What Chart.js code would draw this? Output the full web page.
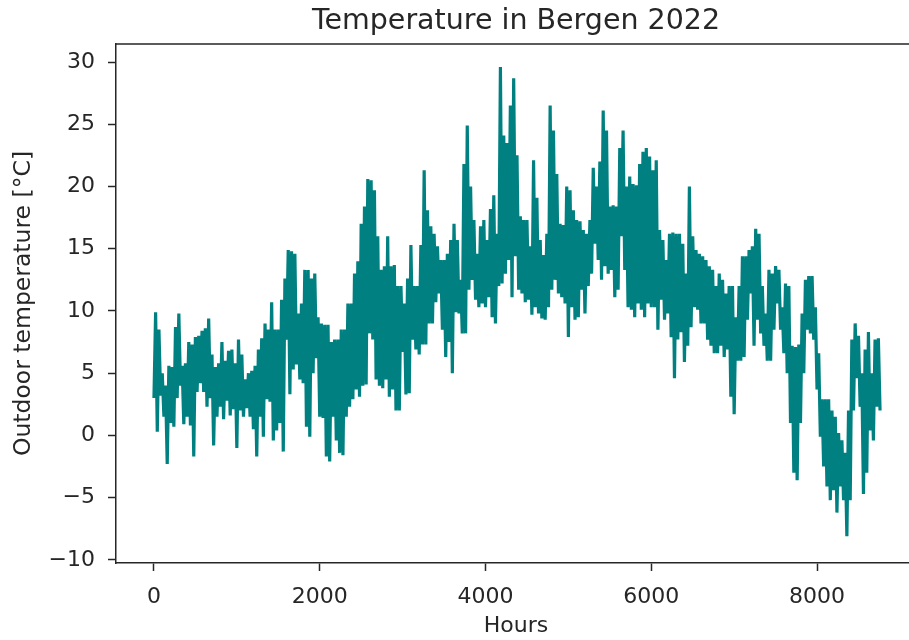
<!DOCTYPE html>
<html>
<head>
<meta charset="utf-8">
<title>Temperature in Bergen 2022</title>
<script src="https://cdn.jsdelivr.net/npm/chart.js@4.4.0/dist/chart.umd.min.js"></script>
<style>
	html, body { margin: 0; padding: 0; background: #fff; overflow: hidden; }
	canvas { display: block; }
</style>
</head>
<body>
<canvas id="grafico" width="925" height="640"></canvas>
<script>
// Hourly outdoor temperature, thinned to one reading every 20 h
const STEP_H = 20;

const temps = [
	// 0 - 1200 h
	3, 9.9, 0.3, 8.5, 3.2, 5, 1.5, 4, -2.3, 5.6, 1, 5.5, 0.7, 8.7, 3, 9.8, 4, 5.6, 0.9, 5.8, 1.5,
	7.5, 0.8, 7.3, -1.7, 7.9, 3.5, 8, 4.2, 8.4, 3.5, 8.6, 2.3, 9.4, 3, 6.5, -0.8, 5.5, 1.5, 5.8, 2.3,
	7.5, 1.3, 6, 2.8, 6.8, 1.6, 6.9, 2.1, 5.8, -1, 7.7, 2, 6.5, 1.5, 4.5, 2.2, 5, 1.5, 5.2, 0.5, 5.6, -1.7,
	// 1240 - 2000 h
	6.9, 1.5, 7.8, -0.1, 9, 2.9, 8.5, 2.7, 10.7, -0.4, 8.5, 0.4, 8.5, 1, 10.9, -1.3, 12.6, 7.7, 14.9, 3.3,
	14.8, 5.3, 14.6, 5.7, 9.8, 4.5, 10.6, 4.2, 13.3, 0.7, 13.3, -0.1, 12.6, 5, 13, 6.2, 9.5, 1.5, 9, 1.4,
	// 2040 - 2760 h
	8.9, -1.7, 8.9, -2.1, 7.5, 1.5, 7.7, -0.4, 7.7, -1.4, 8.5, -1.6, 8.5, 1.5, 10.6, 2.3, 10.6, 2.9, 13, 3.7,
	14, 3.1, 17, 4, 18.4, 4.1, 20.6, 8.2, 20.5, 7.7, 19.7, 4.5, 16, 4, 13.3, 3.8, 13.6, 4.5,
	// 2800 - 4440 h
	16, 3.1, 13.6, 3.7, 13.7, 2, 12, 2, 12, 6.7, 10.6, 3.3, 12.6, 3.4, 15.3, 7.7, 12, 6.9, 12, 6.5,
	15.3, 7.3, 21.3, 7.3, 18.1, 9, 16.8, 9, 16.2, 10.7, 15.2, 11.4, 14.1, 8.5, 14.1, 6.3, 14.6, 7.5, 15.7, 5,
	17, 9.9, 15.7, 9.8, 12.5, 8.2, 21.8, 8.2, 24.9, 11.7, 20, 12.5, 17.3, 10.9, 14.6, 10.3, 16.8, 10.6, 17.3, 10.3,
	15.7, 11.1, 18.2, 9.5, 19.3, 9, 16.2, 12, 29.6, 12.2, 24.1, 13, 23.5, 14.1, 26.5, 11.1, 28.7, 14.4, 22.5, 11.7,
	17.6, 11.4, 17.3, 10.7,
	// 4480 - 6000 h
	17.3, 10.9, 15.2, 9.7, 22.1, 10.3, 19.1, 9.8, 15.7, 9.4, 14.5, 9.3, 16.2, 10.3, 26.5, 11.7, 24.5, 12.5, 21, 11.4,
	17, 11.1, 16.9, 10.6, 20, 7.9, 19.7, 10.3, 18.1, 9.3, 17.3, 9.5, 17.2, 11.7, 16.5, 9.8, 16.2, 12, 17.3, 13,
	21.5, 15.4, 20, 14.1, 22, 12.5, 26.1, 13.6, 24.5, 13, 18.4, 13.3, 18.5, 11.1, 18.4, 11.7, 23.1, 16, 24.5, 13.3,
	20, 10.3, 20.8, 10.1, 20.2, 9.5, 20.1, 10.6, 21.8, 10.1, 22.8, 9.5, 23.1, 10.6, 22.4, 10.3, 21.3, 10.3,
	// 6040 - 7640 h
	22.1, 8.5, 16.5, 10.9, 15.7, 9.3, 14.1, 9.8, 16.2, 7.9, 16.3, 4.6, 16.2, 7.7, 16.2, 8.3, 15.4, 5.9, 13, 7.2,
	20, 8.7, 16, 10.3, 14.9, 10.1, 14.6, 9, 14.4, 9, 14.1, 7.7, 13.6, 7.2, 13.3, 6.6, 12, 6.6, 13, 7.2,
	12.5, 6.3, 11.4, 6.9, 12, 3.1, 12, 1.7, 9.5, 6, 12, 6, 14.4, 6.3, 14.4, 9.3, 14.9, 11.4, 15.2, 7.2,
	16.6, 9.3, 16.2, 8.2, 12, 7.2, 9.8, 6, 13.3, 6, 13, 8.5, 13.6, 10.6, 13.3, 8.5, 10.3, 6.6, 12.2, 5,
	12, 1,
	// 7680 - 8760 h
	7.2, -3, 7.1, -3.6, 7.3, 1, 9.8, 5, 12.5, 8.5, 12.8, 8.2, 12.8, 7.7, 10.3, 3.7, 6.6, -0.1, 2.9, -2.5,
	2.9, -4.1, 2.9, -5.2, 2, -4.4, 1.5, -6.2, 0.2, -4.1, -0.4, -5.2, -1.4, -8.1, 2, -5.2, 7.7, 2, 9, 4.6,
	8, 2.3, 5, -4.7, 6.9, -3, 8.3, 0.4, 5, -0.4, 7.7, 2.3, 7.8, 2,
];

const hours = temps.map((_, i) => i * STEP_H);

const xTicks = [0, 2000, 4000, 6000, 8000];
const yTicks = [-10, -5, 0, 5, 10, 15, 20, 25, 30];

const TITULO = 'Temperature in Bergen 2022';
const TXT = '#262626';
const FONT = 'DejaVu Sans';

// matplotlib style minus sign
function fmtTick(v) {
	return v < 0 ? '\u2212' + Math.abs(v) : String(v);
}

// frame on top/right + title centred over the plot area
const moldura = {
	id: 'moldura',
	afterDraw(chart) {
		const { ctx, chartArea: a } = chart;
		ctx.save();
		ctx.strokeStyle = TXT;
		ctx.lineWidth = 1.5;
		ctx.beginPath();
		ctx.moveTo(a.left, a.top);
		ctx.lineTo(a.right, a.top);
		ctx.lineTo(a.right, a.bottom);
		ctx.stroke();

		ctx.fillStyle = TXT;
		ctx.font = '28.5px "' + FONT + '"';
		ctx.textAlign = 'center';
		ctx.textBaseline = 'middle';
		ctx.fillText(TITULO, (a.left + a.right) / 2, 22);
		ctx.restore();
	},
};

const grafico = document.getElementById('grafico');

new Chart(grafico, {
	type: 'line',
	data: {
		datasets: [
			{
				label: 'Outdoor temperature',
				data: hours.map((h, i) => ({ x: h, y: temps[i] })),
				borderColor: '#008080',
				borderWidth: 3.2,
				pointRadius: 0,
				tension: 0,
				fill: false,
			},
		],
	},
	options: {
		responsive: false,
		animation: false,
		devicePixelRatio: 1,
		layout: { padding: { left: 0, right: 9, top: 44, bottom: 0 } },
		plugins: {
			legend: { display: false },
			tooltip: { enabled: false },
			title: { display: false },
		},
		scales: {
			x: {
				type: 'linear',
				min: -458,
				max: 9194,
				afterBuildTicks: (s) => { s.ticks = xTicks.map((v) => ({ value: v })); },
				afterFit: (s) => { s.height = 77; },
				grid: { drawOnChartArea: false, drawTicks: true, tickLength: 8, tickWidth: 1.5, color: TXT },
				border: { display: true, color: TXT, width: 1.5 },
				ticks: {
					color: TXT,
					font: { family: FONT, size: 22 },
					padding: 13,
					maxRotation: 0,
					autoSkip: false,
					callback: fmtTick,
				},
				title: {
					display: true,
					text: 'Hours',
					color: TXT,
					font: { family: FONT, size: 22 },
					padding: { top: 0, bottom: 1 },
				},
			},
			y: {
				type: 'linear',
				min: -10.25,
				max: 31.45,
				afterBuildTicks: (s) => { s.ticks = yTicks.map((v) => ({ value: v })); },
				afterFit: (s) => { s.width = 116; },
				grid: { drawOnChartArea: false, drawTicks: true, tickLength: 8, tickWidth: 1.5, color: TXT },
				border: { display: true, color: TXT, width: 1.5 },
				ticks: {
					color: TXT,
					font: { family: FONT, size: 22 },
					padding: 13,
					autoSkip: false,
					callback: fmtTick,
				},
				title: {
					display: true,
					text: 'Outdoor temperature [°C]',
					color: TXT,
					font: { family: FONT, size: 23.5 },
					padding: { top: 10, bottom: 0 },
				},
			},
		},
	},
	plugins: [moldura],
});
</script>
</body>
</html>
